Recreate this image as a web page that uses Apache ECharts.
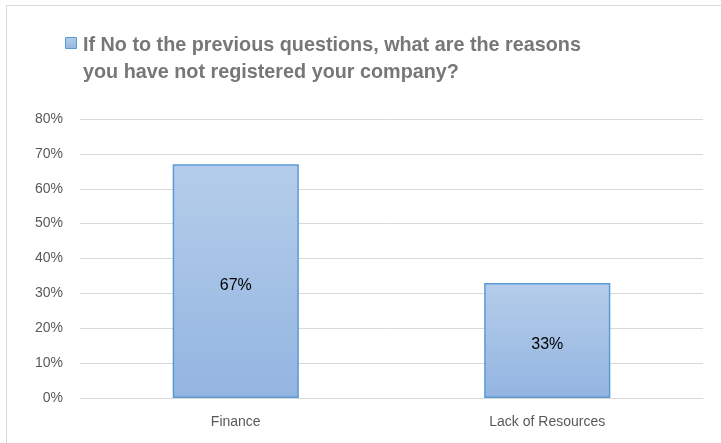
<!DOCTYPE html>
<html>
<head>
<meta charset="utf-8">
<script src="https://cdn.jsdelivr.net/npm/echarts@6/dist/echarts.min.js"></script>
<style>
  html, body { margin: 0; padding: 0; background: #fff; }
  #chart { width: 721px; height: 443px; }
</style>
</head>
<body>
<div id="chart"></div>
<script>
// Survey answers: reasons for not registering a company
const categories = ['Finance', 'Lack of Resources'];
const shares = [67, 33];
const seriesName = 'If No to the previous questions, what are the reasons you have not registered your company?';
const titleLines = ['If No to the previous questions, what are the reasons', 'you have not registered your company?'];
const yTicks = [0, 10, 20, 30, 40, 50, 60, 70, 80];

const chart = echarts.init(document.getElementById('chart'), null, { renderer: 'canvas' });

const barFill = new echarts.graphic.LinearGradient(0, 0, 0, 1, [
  { offset: 0, color: '#b5cdea' },
  { offset: 1, color: '#93b5e1' }
]);

chart.setOption({
  animation: false,
  backgroundColor: '#ffffff',
  title: {
    text: titleLines.join('\n'),
    left: 78,
    top: 27,
    textStyle: {
      fontFamily: 'Liberation Sans, Arial, sans-serif',
      fontSize: 19.8,
      fontWeight: 'bold',
      color: '#777777',
      lineHeight: 27
    }
  },
  graphic: [
    {
      // chart area frame
      type: 'rect',
      shape: { x: 6.5, y: 5.5, width: 730, height: 450 },
      style: { fill: 'none', stroke: '#d9d9d9', lineWidth: 1 },
      silent: true
    },
    {
      // series key swatch
      type: 'rect',
      shape: { x: 65.5, y: 37.5, width: 11, height: 11 },
      style: { fill: barFill, stroke: '#5b9bd5', lineWidth: 1 },
      silent: true
    }
  ],
  grid: { left: 80, right: 18, top: 119, bottom: 45 },
  xAxis: {
    type: 'category',
    data: categories,
    axisLine: { lineStyle: { color: '#d9d9d9', width: 1 } },
    axisTick: { show: false },
    axisLabel: {
      color: '#595959',
      fontFamily: 'Liberation Sans, Arial, sans-serif',
      fontSize: 14,
      margin: 17
    }
  },
  yAxis: {
    type: 'value',
    min: yTicks[0],
    max: yTicks[yTicks.length - 1],
    interval: 10,
    axisLine: { show: false },
    axisTick: { show: false },
    splitLine: { lineStyle: { color: '#d9d9d9', width: 1 } },
    axisLabel: {
      color: '#595959',
      fontFamily: 'Liberation Sans, Arial, sans-serif',
      fontSize: 14,
      margin: 17,
      formatter: v => v + '%'
    }
  },
  series: [{
    name: seriesName,
    type: 'bar',
    data: shares,
    barWidth: '40.5%',
    itemStyle: {
      color: barFill,
      borderColor: '#5b9bd5',
      borderWidth: 1.5
    },
    label: {
      show: true,
      position: 'inside',
      offset: [0, 4],
      color: '#000000',
      fontFamily: 'Liberation Sans, Arial, sans-serif',
      fontSize: 16,
      formatter: p => p.value + '%'
    }
  }]
});
</script>
</body>
</html>
